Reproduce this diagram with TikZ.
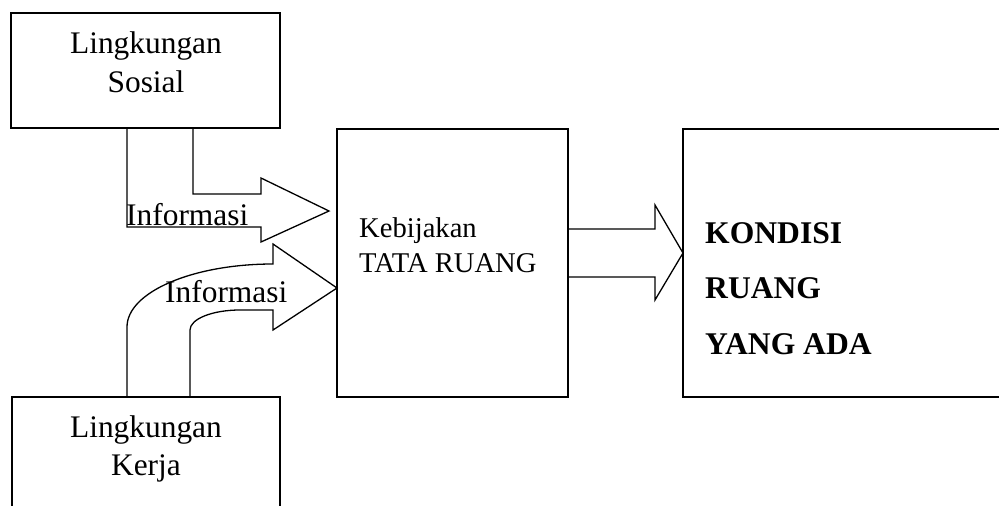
\documentclass[tikz,border=0pt]{standalone}
\usepackage{fontspec}
\setmainfont{Liberation Serif}
\begin{document}
\begin{tikzpicture}[x=1pt,y=-1pt,
  box/.style={draw,line width=1.3pt,rectangle,inner sep=0pt,outer sep=0pt},
  blockarrow/.style={draw,line width=1.3pt,line join=miter},
  bigtxt/.style={inner sep=0pt,anchor=base,font=\fontsize{31.4}{38.5}\selectfont},
  midtxt/.style={inner sep=0pt,anchor=base west,font=\fontsize{28.6}{35}\selectfont},
  boldtxt/.style={inner sep=0pt,anchor=base west,font=\fontsize{31.6}{38}\selectfont\bfseries}]
\useasboundingbox (0,0) rectangle (999,506);
\clip (0,0) rectangle (999,506);
% boxes
\node[box,minimum width=269pt,minimum height=115pt] (sosial) at (145.5,70.5) {};
\node[box,minimum width=268pt,minimum height=130pt,anchor=north west] (kerja) at (12,397) {};
\node[box,minimum width=231pt,minimum height=268pt,anchor=north west] (kebijakan) at (337,129) {};
\node[box,minimum width=330pt,minimum height=268pt,anchor=north west] (kondisi) at (683,129) {};
% texts
\node[bigtxt] (t1) at (146,53) {Lingkungan};
\node[bigtxt] (t2) at (146,92) {Sosial};
\node[bigtxt] (t3) at (146,437) {Lingkungan};
\node[bigtxt] (t4) at (146,475) {Kerja};
\node[midtxt] (t5) at (359,237) {Kebijakan};
\node[midtxt] (t6) at (359,272) {TATA RUANG};
\node[boldtxt] (t7) at (705,243) {KONDISI};
\node[boldtxt] (t8) at (705,298) {RUANG};
\node[boldtxt] (t9) at (705,354) {YANG ADA};
% arrow from Sosial
\draw[blockarrow] (127,128) -- (127,227) -- (261,227) -- (261,242) -- (329,211)
  -- (261,178) -- (261,194) -- (193,194) -- (193,128);
\node[bigtxt,anchor=base west] (inf1) at (126,225) {Informasi};
% arrow from Kerja
\draw[blockarrow] (127,397) -- (127,327) arc[start angle=180,end angle=90,x radius=146pt,y radius=63pt]
  -- (273,244) -- (337,288) -- (273,330) -- (273,310) -- (240,310)
  arc[start angle=90,end angle=180,x radius=50pt,y radius=20pt] -- (190,397);
\node[bigtxt,anchor=base west] (inf2) at (165,302) {Informasi};
% arrow to Kondisi
\draw[blockarrow] (568,229) -- (655,229) -- (655,205) -- (683,253) -- (655,300) -- (655,277) -- (568,277);
\end{tikzpicture}
\end{document}
